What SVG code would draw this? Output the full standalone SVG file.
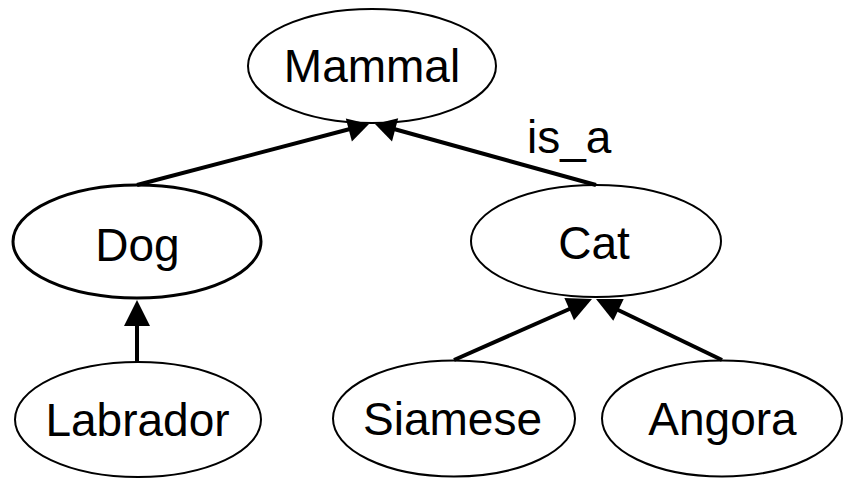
<svg xmlns="http://www.w3.org/2000/svg" width="849" height="481" viewBox="0 0 849 481">
  <style>
    .node ellipse { fill: #ffffff; stroke: #000000; stroke-width: 2; }
    .node text { font-family: "Liberation Sans", Arial, sans-serif; font-size: 46px; fill: #000000; text-anchor: middle; }
    .edge line { stroke: #000000; stroke-width: 4; }
    .edge polygon { fill: #000000; stroke: none; }
    .label { font-family: "Liberation Sans", Arial, sans-serif; font-size: 46px; fill: #000000; }
  </style>
  <rect width="849" height="481" fill="#ffffff"/>

  <g class="node" id="mammal">
    <ellipse cx="372" cy="66" rx="124" ry="57"/>
    <text x="372" y="82">Mammal</text>
  </g>
  <g class="node" id="dog">
    <ellipse cx="137" cy="241.5" rx="124" ry="56.5" style="stroke-width:3"/>
    <text x="137.5" y="261">Dog</text>
  </g>
  <g class="node" id="cat">
    <ellipse cx="596" cy="241" rx="125" ry="56"/>
    <text x="594" y="259">Cat</text>
  </g>
  <g class="node" id="labrador">
    <ellipse cx="138" cy="419.5" rx="123" ry="57.5"/>
    <text x="137.5" y="436">Labrador</text>
  </g>
  <g class="node" id="siamese">
    <ellipse cx="454" cy="418.5" rx="121" ry="58"/>
    <text x="452.5" y="435">Siamese</text>
  </g>
  <g class="node" id="angora">
    <ellipse cx="722" cy="418.5" rx="120" ry="58"/>
    <text x="722.5" y="435">Angora</text>
  </g>

  <!-- connectors: child to parent, arrowhead at the parent (drawn over the node outlines) -->
  <g id="edges">
    <g class="edge" id="dog-mammal">
      <line x1="137" y1="185" x2="350" y2="129"/>
      <polygon points="369,124 345.8,118.4 351.9,141.6"/>
    </g>
    <g class="edge" id="cat-mammal">
      <line x1="596" y1="185" x2="394" y2="129"/>
      <polygon points="375,124 392,141.5 398.2,118.3"/>
    </g>
    <g class="edge" id="labrador-dog">
      <line x1="137" y1="362" x2="137" y2="320"/>
      <polygon points="137,300 124,326 150,326"/>
    </g>
    <g class="edge" id="siamese-cat">
      <line x1="454" y1="360" x2="574" y2="307"/>
      <polygon points="592,299 564.4,298 574,320.2"/>
    </g>
    <g class="edge" id="angora-cat">
      <line x1="722" y1="360" x2="614" y2="308"/>
      <polygon points="596,299 613.3,320.7 623.7,299.1"/>
    </g>
    <text class="label" x="527" y="153">is_a</text>
  </g>
</svg>
